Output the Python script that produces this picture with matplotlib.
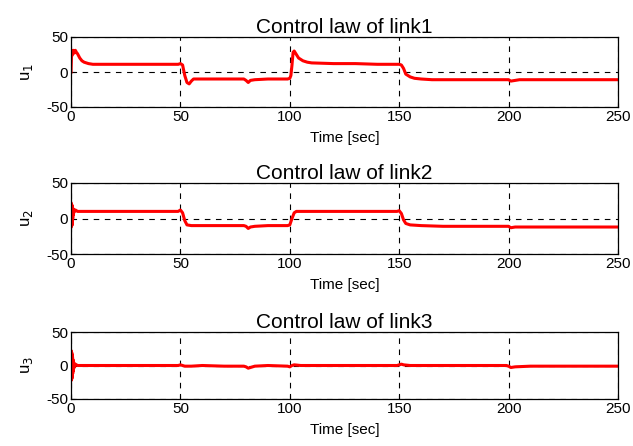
import matplotlib
matplotlib.use("Agg")
import matplotlib.pyplot as plt
import numpy as np

plt.rcParams['font.family'] = ['Liberation Sans', 'DejaVu Sans']
plt.rcParams['axes.unicode_minus'] = False

titles = ["Control law of link1", "Control law of link2", "Control law of link3"]
ylabels = ["u$_1$", "u$_2$", "u$_3$"]
xticks = [0, 50, 100, 150, 200, 250]
yticks = [-50, 0, 50]

# link 1 control (time, value) vertices
t1 = [0, 0.3, 0.6, 1.0, 1.5, 2.0, 2.5, 3.0, 4, 5, 6, 7, 8, 10, 20, 30, 40, 49, 50, 51,
      52, 53, 54, 55, 56, 60, 70, 79, 80, 81, 82, 84, 90, 99, 100, 100.5, 101, 101.5, 102,
      103, 104, 106, 108, 110, 120, 130, 140, 149, 150, 151, 152, 153, 155, 157, 160, 165,
      170, 180, 190, 199, 200, 201, 203, 205, 210, 220, 230, 240, 250]
u1 = [0, 30, 24, 31, 27, 31, 28, 26, 20, 16, 14, 13, 12, 11, 11, 11, 11, 11, 12, 10,
      -5, -15, -17, -13, -10, -10, -10, -10, -12, -15, -12, -11, -10, -10, -9, -5, 10, 28, 30,
      25, 20, 16, 14, 13, 12, 12, 11, 11, 11, 10, 5, -3, -7, -9, -10, -11,
      -11, -11, -11, -11, -11, -13, -12, -11, -11, -11, -11, -11, -11]

# link 2 control
t2 = [0, 0.1, 0.2, 0.3, 0.4, 0.5, 0.6, 0.7, 0.8, 0.9, 1.0, 1.2, 1.5, 2, 3, 5, 10, 20, 30,
      40, 49, 50, 51, 52, 53, 55, 60, 70, 79, 80, 81, 82, 84, 90, 99, 100, 101, 102, 103,
      105, 110, 120, 130, 140, 149, 150, 151, 152, 153, 155, 160, 170, 180, 190, 199, 200,
      201, 203, 210, 220, 230, 240, 250]
u2 = [0, 22, -12, 20, -10, 18, -8, 15, 0, 14, 5, 13, 9, 12, 10, 10, 10, 10, 10,
      10, 10, 12, 8, -3, -9, -10, -10, -10, -10, -11, -14, -12, -11, -10, -10, -9, 0, 8, 10,
      10, 10, 10, 10, 10, 10, 11, 7, -2, -7, -9, -10, -11, -11, -11, -11, -11,
      -13, -12, -12, -12, -12, -12, -12]

# link 3 control
t3 = [0, 0.1, 0.2, 0.3, 0.4, 0.5, 0.6, 0.7, 0.8, 0.9, 1.0, 1.2, 1.5, 2, 3, 5, 10, 20, 30,
      40, 49, 50, 51, 52, 55, 60, 70, 79, 80, 81, 82, 84, 90, 99, 100, 101, 102, 105, 110,
      120, 130, 140, 149, 150, 151, 152, 155, 160, 170, 180, 190, 199, 200, 201, 203, 210,
      220, 230, 240, 250]
u3 = [0, 22, -22, 20, -20, 17, -16, 13, -12, 9, -8, 5, -3, 2, 0, 0, 0, 0, 0,
      0, 0, 1, 0, -1, -1, 0, -1, -1, -2, -4, -3, -1, 0, -1, -2, 0, 1, 0, 0,
      0, 0, 0, 0, 1, 2, 1, 0, 0, 0, 0, 0, 0, -1, -3, -2, -1,
      -1, -1, -1, -1]

series = [(t1, u1), (t2, u2), (t3, u3)]

fig = plt.figure(figsize=(6.33, 4.46), dpi=100)
W, H = 633, 446
boxes = [(71, 37, 618, 107), (71, 183, 618, 254), (71, 332, 618, 399)]

for i, ((t, u), (x0, y0, x1, y1)) in enumerate(zip(series, boxes)):
    ax = fig.add_axes([x0 / W, 1 - y1 / H, (x1 - x0) / W, (y1 - y0) / H])
    ax.plot(t, u, color='#ff0000', linewidth=2.2, solid_joinstyle='round')
    ax.set_xlim(0, 250)
    ax.set_ylim(-50, 50)
    ax.set_xticks(xticks)
    ax.set_yticks(yticks)
    ax.grid(True, color='k', linestyle=(0, (5, 5)), linewidth=0.8)
    ax.tick_params(direction='in', labelsize=11, length=3, width=0.8, pad=2)
    for s in ax.spines.values():
        s.set_linewidth(0.9)
    ax.set_title(titles[i], fontsize=15, pad=3)
    ax.set_xlabel("Time [sec]", fontsize=11, labelpad=5)
    ax.set_ylabel(ylabels[i], fontsize=12, labelpad=8)

fig.savefig("out.png", dpi=100)
